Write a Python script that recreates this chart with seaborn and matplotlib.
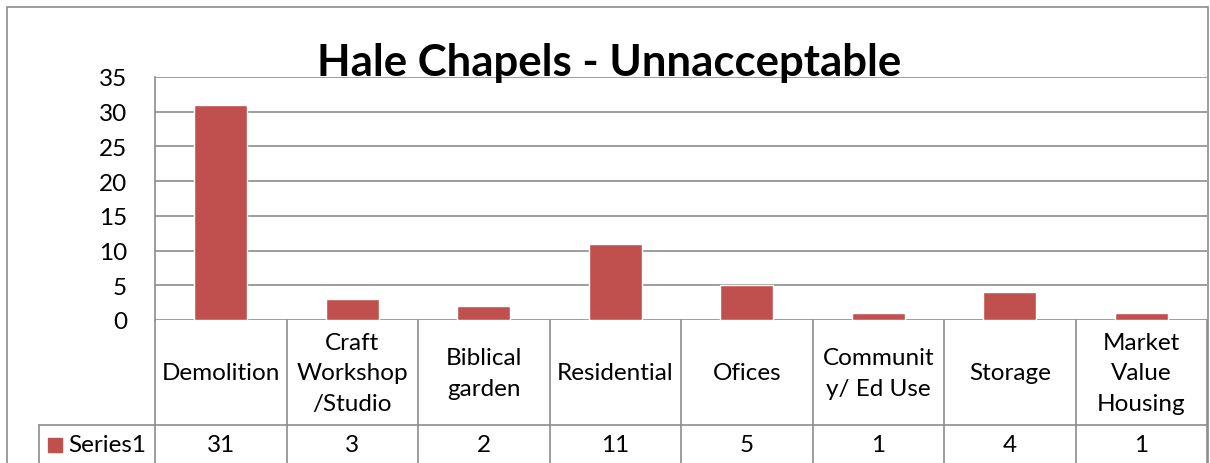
import matplotlib
matplotlib.use("Agg")
import matplotlib.pyplot as plt
import matplotlib.transforms as mtransforms
from matplotlib.patches import Rectangle
import seaborn as sns
import pandas as pd

# --- data ---
categories = ["Demolition", "Craft\nWorkshop\n/Studio", "Biblical\ngarden", "Residential",
              "Ofices", "Communit\ny/ Ed Use", "Storage", "Market\nValue\nHousing"]
values = [31, 3, 2, 11, 5, 1, 4, 1]
series_name = "Series1"
title = "Hale Chapels - Unnacceptable"
y_ticks = [0, 5, 10, 15, 20, 25, 30, 35]

BAR_COLOR = "#C0504D"
GRID_COLOR = "#8C8C8C"
W, H = 1210, 464
FS = 17.5

sns.set_style("white")
plt.rcParams["font.family"] = ["Lato", "DejaVu Sans"]
plt.rcParams["text.color"] = "black"
plt.rcParams["ytick.color"] = "black"

df = pd.DataFrame({"cat": categories, "val": values})

fig = plt.figure(figsize=(W / 100, H / 100), dpi=100)
# plot area in pixel coords: x 155..1207, y 78..321
ax = fig.add_axes([155 / W, 1 - 321 / H, (1207 - 155) / W, (321 - 78) / H])

sns.barplot(data=df, x="cat", y="val", color=BAR_COLOR, width=0.4, saturation=1, ax=ax)

ax.set_xlim(-0.5, len(categories) - 0.5)
ax.set_ylim(0, 35)
ax.set_yticks(y_ticks)
ax.set_yticklabels([str(t) for t in y_ticks], fontsize=FS)
ax.tick_params(axis="y", length=0, pad=20)
ax.set_xticks([])
ax.set_xlabel("")
ax.set_ylabel("")
for t in y_ticks:
    ax.axhline(t, color=GRID_COLOR, lw=1.2, zorder=0)
for s in ["top", "right", "bottom"]:
    ax.spines[s].set_visible(False)
ax.spines["left"].set_color(GRID_COLOR)
ax.spines["left"].set_linewidth(1.2)

ax.set_title(title, fontsize=31.5, fontweight="bold", x=0.432, y=1.01, pad=0)

# --- data table below the axis ---
trans = mtransforms.blended_transform_factory(ax.transData, ax.transAxes)
ppx = 1.0 / 243  # axes fraction per pixel (vertical)
y_head = -(374 - 321) * ppx
y_row = -(446 - 321) * ppx
y_mid = -(426 - 321) * ppx
y_bot = -(470 - 321) * ppx
n = len(categories)

for i, (c, v) in enumerate(zip(categories, values)):
    ax.text(i, y_head, c, transform=trans, ha="center", va="center",
            fontsize=FS, linespacing=1.58, clip_on=False)
    ax.text(i, y_row, str(v), transform=trans, ha="center", va="center",
            fontsize=FS, clip_on=False)

for k in range(n + 1):
    ax.plot([k - 0.5, k - 0.5], [0, y_bot], transform=trans, color=GRID_COLOR,
            lw=1.2, clip_on=False)
# row separator extends under the series label cell
col_px = (1207 - 155) / n
left_x = -0.5 - (155 - 39) / col_px
ax.plot([left_x, n - 0.5], [y_mid, y_mid], transform=trans, color=GRID_COLOR,
        lw=1.2, clip_on=False)
ax.plot([left_x, left_x], [y_mid, y_bot], transform=trans, color=GRID_COLOR,
        lw=1.2, clip_on=False)

# legend key in the series label cell
key_x = -0.5 - (155 - 48) / col_px
ax.add_patch(Rectangle((key_x, y_row - 7 * ppx), 14 / col_px, 14 * ppx,
                       transform=trans, color=BAR_COLOR, clip_on=False))
ax.text(key_x + 20 / col_px, y_row, series_name, transform=trans,
        ha="left", va="center", fontsize=FS, clip_on=False)

# chart outer frame
fig.add_artist(Rectangle((7 / W, -0.1), (1208 - 7) / W, 1.1 - 8 / H,
                         transform=fig.transFigure, fill=False,
                         edgecolor="#8C8C8C", lw=1.2))

fig.savefig("out.png", dpi=100)
